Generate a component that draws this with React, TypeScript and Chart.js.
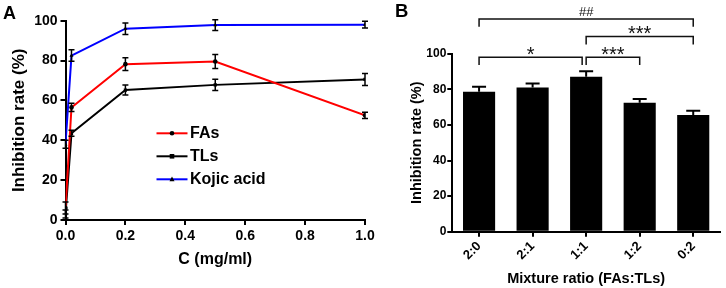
import React, { useEffect, useRef } from "react";
import { Chart, registerables } from "chart.js";

Chart.register(...registerables);

// ---------- Panel A data ----------
const concentrations = [0, 0.02, 0.2, 0.5, 1.0];
const fasValues = [6, 56.5, 78.2, 79.5, 52.5];
const fasErrors = [3, 2.1, 3.2, 3.5, 1.6];
const tlsValues = [3, 43.5, 65.2, 67.8, 70.5];
const tlsErrors = [2, 1.5, 2.5, 2.8, 3];
const kojicValues = [38, 82.5, 96, 97.8, 98];
const kojicErrors = [2, 2.9, 2.9, 2.7, 1.7];
const seriesNames = ["FAs", "TLs", "Kojic acid"];
const seriesColors = ["#ff0000", "#000000", "#0000ff"];
const seriesMarkers = ["circle", "rect", "triangle"];

// ---------- Panel B data ----------
const ratioLabels = ["2:0", "2:1", "1:1", "1:2", "0:2"];
const ratioValues = [78.6, 81, 87, 72.4, 65.6];
const ratioErrors = [2.8, 2.3, 3.2, 2.2, 2.3];
const bracketFrom = [0, 2, 2, 0];
const bracketTo = [2, 3, 4, 4];
const bracketLevel = [98, 98, 109.6, 119.5];
const bracketText = ["*", "***", "***", "##"];

const FONT = "Arial, 'Liberation Sans', Helvetica, sans-serif";

function drawMarker(ctx: CanvasRenderingContext2D, style: string, x: number, y: number, r: number) {
  ctx.beginPath();
  if (style === "rect") {
    ctx.rect(x - r, y - r, 2 * r, 2 * r);
  } else if (style === "triangle") {
    ctx.moveTo(x, y - r * 1.2);
    ctx.lineTo(x + r * 1.1, y + r * 0.8);
    ctx.lineTo(x - r * 1.1, y + r * 0.8);
    ctx.closePath();
  } else {
    ctx.arc(x, y, r, 0, Math.PI * 2);
  }
  ctx.fill();
}

const errorBarsA = {
  id: "errA",
  afterDatasetsDraw(chart: any) {
    const { ctx } = chart;
    const y = chart.scales.y;
    ctx.save();
    ctx.strokeStyle = "#000";
    ctx.lineWidth = 1.5;
    chart.data.datasets.forEach((ds: any, di: number) => {
      const meta = chart.getDatasetMeta(di);
      meta.data.forEach((pt: any, i: number) => {
        const v = ds.data[i].y;
        const e = ds.errors[i];
        const px = pt.x;
        const top = y.getPixelForValue(v + e);
        const bot = y.getPixelForValue(Math.max(0, v - e));
        ctx.beginPath();
        ctx.moveTo(px, top);
        ctx.lineTo(px, bot);
        ctx.moveTo(px - 3, top);
        ctx.lineTo(px + 3, top);
        ctx.moveTo(px - 3, bot);
        ctx.lineTo(px + 3, bot);
        ctx.stroke();
      });
    });
    ctx.restore();
  },
};

const legendA = {
  id: "legA",
  afterDraw(chart: any) {
    const { ctx, chartArea } = chart;
    ctx.save();
    chart.data.datasets.forEach((ds: any, i: number) => {
      const yy = chartArea.top + 112.6 + i * 23;
      const x0 = chartArea.left + 91;
      ctx.strokeStyle = ds.borderColor;
      ctx.lineWidth = 2;
      ctx.beginPath();
      ctx.moveTo(x0, yy);
      ctx.lineTo(x0 + 31, yy);
      ctx.stroke();
      ctx.fillStyle = "#000";
      drawMarker(ctx, ds.pointStyle, x0 + 15.5, yy, 2.3);
      ctx.fillStyle = "#000";
      ctx.font = `bold 16px ${FONT}`;
      ctx.textBaseline = "middle";
      ctx.textAlign = "left";
      ctx.fillText(ds.label, x0 + 33.5, yy);
    });
    ctx.font = `bold 18px ${FONT}`;
    ctx.textBaseline = "alphabetic";
    ctx.textAlign = "left";
    ctx.fillText("A", 3, 18.5);
    ctx.restore();
  },
};

const errorBarsB = {
  id: "errB",
  afterDatasetsDraw(chart: any) {
    const { ctx } = chart;
    const y = chart.scales.y;
    const ds = chart.data.datasets[0];
    const meta = chart.getDatasetMeta(0);
    ctx.save();
    ctx.strokeStyle = "#000";
    ctx.lineWidth = 2;
    meta.data.forEach((bar: any, i: number) => {
      const v = ds.data[i];
      const top = y.getPixelForValue(v + ds.errors[i]);
      const base = y.getPixelForValue(v);
      ctx.beginPath();
      ctx.moveTo(bar.x, base);
      ctx.lineTo(bar.x, top);
      ctx.moveTo(bar.x - 7, top);
      ctx.lineTo(bar.x + 7, top);
      ctx.stroke();
    });
    ctx.restore();
  },
};

const bracketsB = {
  id: "brB",
  afterDraw(chart: any) {
    const { ctx } = chart;
    const x = chart.scales.x;
    const y = chart.scales.y;
    ctx.save();
    ctx.strokeStyle = "#111";
    ctx.fillStyle = "#111";
    ctx.lineWidth = 1.5;
    bracketText.forEach((label, i) => {
      const x1 = x.getPixelForValue(bracketFrom[i]);
      let x2 = x.getPixelForValue(bracketTo[i]);
      const touching = bracketFrom.some(
        (f, j) => j !== i && f === bracketTo[i] && bracketLevel[j] === bracketLevel[i]
      );
      if (touching) x2 -= 4;
      const yl = y.getPixelForValue(bracketLevel[i]);
      const yd = y.getPixelForValue(bracketLevel[i] - 4.4);
      ctx.beginPath();
      ctx.moveTo(x1, yd);
      ctx.lineTo(x1, yl);
      ctx.lineTo(x2, yl);
      ctx.lineTo(x2, yd);
      ctx.stroke();
      ctx.textAlign = "center";
      ctx.textBaseline = "alphabetic";
      if (label.includes("#")) {
        ctx.font = `13px ${FONT}`;
        ctx.fillText(label, (x1 + x2) / 2, yl - 3.4);
      } else {
        ctx.font = `20px ${FONT}`;
        ctx.fillText(label, (x1 + x2) / 2, yl + 3.5);
      }
    });
    ctx.fillStyle = "#000";
    ctx.font = `bold 18.5px ${FONT}`;
    ctx.textAlign = "left";
    ctx.fillText("B", 10, 16.7);
    ctx.restore();
  },
};

function PanelA() {
  const ref = useRef<HTMLCanvasElement>(null);
  useEffect(() => {
    const valueSets = [fasValues, tlsValues, kojicValues];
    const errorSets = [fasErrors, tlsErrors, kojicErrors];
    const datasets: any[] = seriesNames.map((name, si) => ({
      label: name,
      data: concentrations.map((c, i) => ({ x: c, y: valueSets[si][i] })),
      errors: errorSets[si],
      borderColor: seriesColors[si],
      backgroundColor: seriesColors[si],
      borderWidth: 2,
      pointStyle: seriesMarkers[si],
      pointRadius: 2.3,
      pointBackgroundColor: "#000",
      pointBorderColor: "#000",
      pointBorderWidth: 0,
      tension: 0,
    }));
    const tickFont = { family: FONT, size: 14, weight: "bold" as const };
    const chart = new Chart(ref.current as HTMLCanvasElement, {
      type: "line",
      data: { datasets },
      options: {
        responsive: false,
        animation: false,
        layout: { padding: { top: 20.7, right: 20, bottom: 0, left: 0 } },
        plugins: { legend: { display: false }, tooltip: { enabled: false } },
        scales: {
          x: {
            type: "linear",
            min: 0,
            max: 1,
            ticks: {
              stepSize: 0.2,
              callback: (v: any) => Number(v).toFixed(1),
              font: tickFont,
              color: "#000",
              padding: 3,
              maxRotation: 0,
            },
            grid: { drawOnChartArea: false, color: "#000", lineWidth: 2, tickLength: 5 },
            border: { color: "#000", width: 2 },
            title: {
              display: true,
              text: "C (mg/ml)",
              color: "#000",
              font: { family: FONT, size: 16, weight: "bold" },
              padding: { top: 0, bottom: 18.4 },
            },
            afterFit: (s: any) => {
              s.height = 68;
            },
          },
          y: {
            min: 0,
            max: 100,
            ticks: { stepSize: 20, font: tickFont, color: "#000", padding: 3 },
            grid: { drawOnChartArea: false, color: "#000", lineWidth: 2, tickLength: 5 },
            border: { color: "#000", width: 2 },
            title: {
              display: true,
              text: "Inhibition rate (%)",
              color: "#000",
              font: { family: FONT, size: 17, weight: "bold" },
              padding: { top: 9.5, bottom: 0 },
            },
            afterFit: (s: any) => {
              s.width = 65.5;
            },
          },
        },
      } as any,
      plugins: [errorBarsA, legendA],
    });
    return () => chart.destroy();
  }, []);
  return (
    <canvas
      ref={ref}
      width={385}
      height={288}
      style={{ position: "absolute", left: 0, top: 0, width: 385, height: 288 }}
    />
  );
}

function PanelB() {
  const ref = useRef<HTMLCanvasElement>(null);
  useEffect(() => {
    const tickFont = { family: FONT, size: 12, weight: "bold" as const };
    const chart = new Chart(ref.current as HTMLCanvasElement, {
      type: "bar",
      data: {
        labels: ratioLabels,
        datasets: [
          {
            data: ratioValues,
            errors: ratioErrors,
            backgroundColor: "#000",
            borderWidth: 0,
            barPercentage: 0.6,
            categoryPercentage: 1,
          } as any,
        ],
      },
      options: {
        responsive: false,
        animation: false,
        layout: { padding: { top: 53.7, right: 6, bottom: 0, left: 0 } },
        plugins: { legend: { display: false }, tooltip: { enabled: false } },
        scales: {
          x: {
            ticks: {
              font: { family: FONT, size: 13, weight: "bold" },
              color: "#000",
              minRotation: 45,
              maxRotation: 45,
              padding: 2,
            },
            grid: {
              offset: false,
              drawOnChartArea: false,
              color: "#000",
              lineWidth: 2,
              tickLength: 5,
            },
            border: { color: "#000", width: 2 },
            title: {
              display: true,
              text: "Mixture ratio (FAs:TLs)",
              color: "#000",
              font: { family: FONT, size: 14.5, weight: "bold" },
              padding: { top: 0, bottom: 0 },
            },
            afterFit: (s: any) => {
              s.height = 56.3;
            },
          },
          y: {
            min: 0,
            max: 100,
            ticks: { stepSize: 20, font: tickFont, color: "#000", padding: 1 },
            grid: { drawOnChartArea: false, color: "#000", lineWidth: 2, tickLength: 5 },
            border: { color: "#000", width: 2 },
            title: {
              display: true,
              text: "Inhibition rate (%)",
              color: "#000",
              font: { family: FONT, size: 14.5, weight: "bold" },
              padding: { top: 23, bottom: 0 },
            },
            afterFit: (s: any) => {
              s.width = 67.3;
            },
          },
        },
      } as any,
      plugins: [errorBarsB, bracketsB],
    });
    return () => chart.destroy();
  }, []);
  return (
    <canvas
      ref={ref}
      width={341}
      height={288}
      style={{ position: "absolute", left: 385, top: 0, width: 341, height: 288 }}
    />
  );
}

export default function App() {
  return (
    <div style={{ position: "absolute", left: 0, top: 0, width: 726, height: 288, background: "#fff" }}>
      <PanelA />
      <PanelB />
    </div>
  );
}
